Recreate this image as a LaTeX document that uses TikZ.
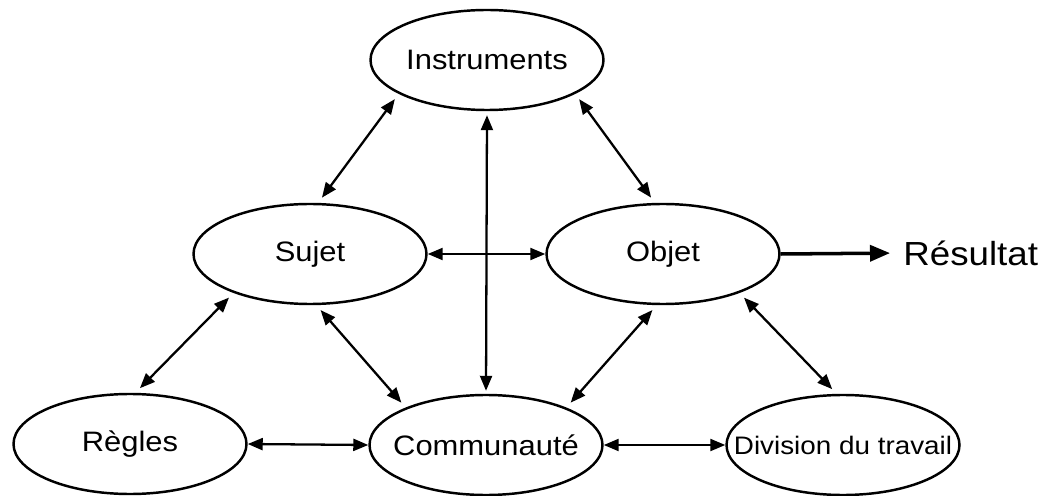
\documentclass[tikz,border=0pt]{standalone}
\usepackage{fontspec}
\setmainfont{Liberation Sans}[FakeStretch=1.1]
\usetikzlibrary{arrows.meta,shapes.geometric}
\newcommand{\mot}[1]{\makebox[0pt]{#1}}
\begin{document}
\begin{tikzpicture}[
	bulle/.style={ellipse,draw,line width=1.4pt,minimum width=4.66cm,minimum height=2cm,inner sep=0pt,font=\fontsize{16}{19}\selectfont},
	lien/.style={{Triangle[length=0.3cm,width=0.24cm]}-{Triangle[length=0.3cm,width=0.24cm]},line width=1.3pt},
	biais/.style={lien,shorten <=0.13cm,shorten >=0.13cm}]
	\useasboundingbox (0,0) rectangle (20.82,9.9);
	\node[bulle] (ins) at (9.74,8.70) {\mot{Instruments}};
	\node[bulle] (suj) at (6.20,4.82) {\mot{Sujet}};
	\node[bulle] (obj) at (13.26,4.82) {\mot{Objet}};
	\node[bulle] (reg) at (2.60,1.02) {\mot{Règles}};
	\node[bulle] (com) at (9.72,1.00) {\mot{Communauté}};
	\node[bulle,font=\fontsize{14.4}{17}\selectfont] (div) at (16.86,1.00) {\mot{Division du travail}};
	\node[anchor=west,inner sep=0pt,font=\fontsize{19}{22}\selectfont] (res) at (18.06,4.84) {Résultat};
	% liens du triangle
	\draw[biais] (suj.81) -- (ins.201);
	\draw[biais] (ins.339) -- (obj.99);
	\draw[lien,shorten <=0.08cm,shorten >=0.06cm] (ins.south) -- (com.north);
	\draw[lien] (suj.east) -- (obj.west);
	\draw[biais] (suj.207) -- (reg.84);
	\draw[biais] (suj.277) -- (com.155);
	\draw[biais] (obj.263) -- (com.25);
	\draw[biais] (obj.333) -- (div.97);
	\draw[lien] (reg.east) -- (com.west);
	\draw[lien] (com.east) -- (div.west);
	\draw[-{Triangle[length=0.4cm,width=0.32cm]},line width=2pt,shorten >=0.26cm] (obj.east) -- (res.west);
\end{tikzpicture}
\end{document}
